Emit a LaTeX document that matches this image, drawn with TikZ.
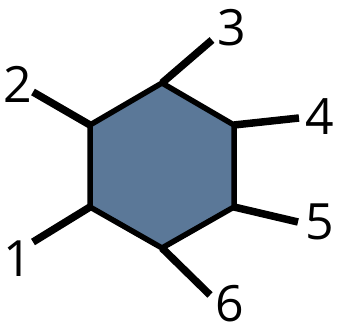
\documentclass[tikz,border=0pt]{standalone}
\usepackage{fontspec}
\setmainfont{Open Sans}
\usetikzlibrary{positioning}

\begin{document}
\begin{tikzpicture}[
    x=1pt, y=-1pt,
    every node/.style={font=\fontsize{50}{50}\selectfont, inner sep=0pt},
    ring/.style={draw=black, line width=5.5pt, line join=miter, fill=ringblue},
    bond/.style={draw=black, line width=7.5pt, line cap=butt}
  ]
    \definecolor{ringblue}{HTML}{5B7898}
    \useasboundingbox (0,0) rectangle (338,326);

    % ring corners
    \coordinate (c1) at (90,207);
    \coordinate (c2) at (90,125);
    \coordinate (c3) at (162,83);
    \coordinate (c4) at (234,125);
    \coordinate (c5) at (234,207);
    \coordinate (c6) at (162,248);

    % free ends of the bonds
    \coordinate (e1) at (33,242);
    \coordinate (e2) at (33,92);
    \coordinate (e3) at (212,40);
    \coordinate (e4) at (299,118);
    \coordinate (e5) at (298,222);
    \coordinate (e6) at (210,295);

    \draw[bond] (c1) -- (e1);
    \draw[bond] (c2) -- (e2);
    \draw[bond] (c3) -- (e3);
    \draw[bond] (c4) -- (e4);
    \draw[bond] (c5) -- (e5);
    \draw[bond] (c6) -- (e6);

    \draw[ring] (c1) -- (c2) -- (c3) -- (c4) -- (c5) -- (c6) -- cycle;

    \node (n1) at (18,259) {1};
    \node (n2) at (18,84) {2};
    \node (n3) at (232,28) {3};
    \node (n4) at (320,117) {4};
    \node (n5) at (320,222) {5};
    \node (n6) at (230,304) {6};

  \end{tikzpicture}
\end{document}
